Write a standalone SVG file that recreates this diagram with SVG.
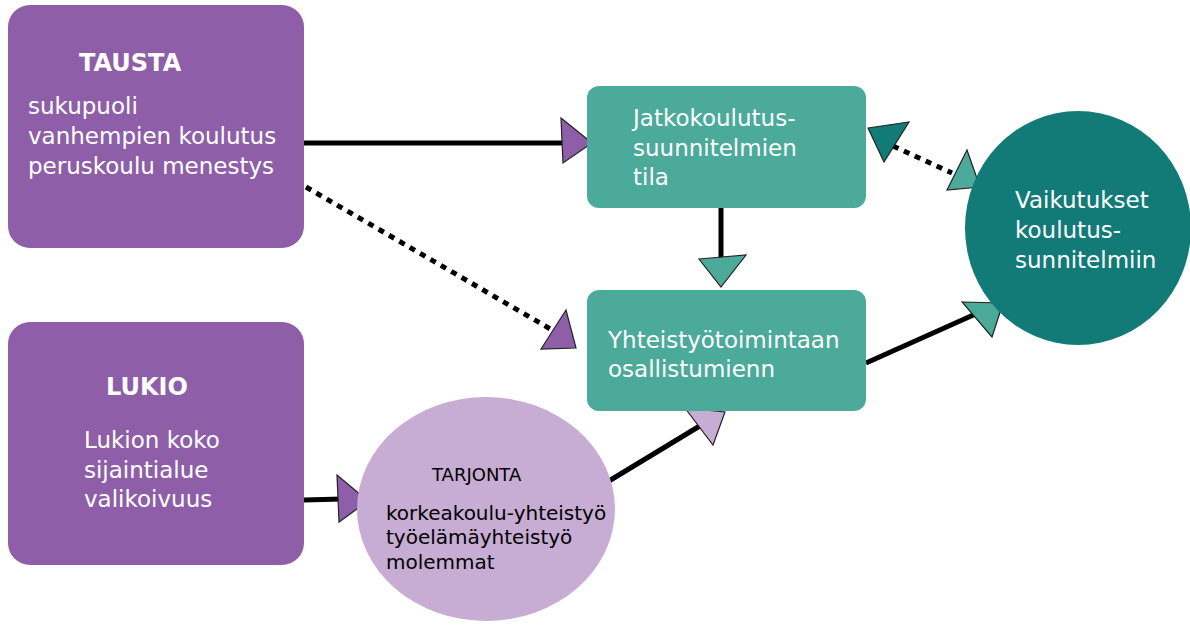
<svg xmlns="http://www.w3.org/2000/svg" width="1190" height="630" viewBox="0 0 1190 630">
<style>
text{font-family:"DejaVu Sans",Verdana,sans-serif;fill:#fff}
.big{font-size:23px}
.bold{font-weight:bold;font-size:24px}
.sm{font-size:20px;fill:#000}
.hd{font-size:18px;fill:#000}
.ln{stroke:#000;stroke-width:5;fill:none}
.dot{stroke:#000;stroke-width:5;fill:none;stroke-dasharray:6 6}
.ah{stroke:#222;stroke-width:1.2;stroke-linejoin:miter}
</style>
<rect width="1190" height="630" fill="#fff"/>
<g id="connectors">
<line class="ln" x1="304" y1="143" x2="562" y2="143"/>
<polygon class="ah" fill="#8E5FA8" points="561,118 592,143 563,163"/>
<line class="dot" x1="306" y1="187" x2="552" y2="330"/>
<polygon class="ah" fill="#8E5FA8" points="566,310 541,349 576,348"/>
<line class="ln" x1="721" y1="208" x2="721" y2="260"/>
<polygon class="ah" fill="#4BAA9A" points="699,259 746,255 721,287"/>
<line class="ln" x1="866" y1="363" x2="980" y2="312"/>
<polygon class="ah" fill="#4BAA9A" points="962,302 1003,303 992,337"/>
<line class="dot" x1="893" y1="146" x2="952" y2="173"/>
<polygon class="ah" fill="#127B77" points="868,128 909,122 884,162"/>
<polygon class="ah" fill="#4BAA9A" points="967,150 980,187 947,190"/>
<line class="ln" x1="304" y1="500" x2="342" y2="499"/>
<polygon class="ah" fill="#8E5FA8" points="337,475 368,501 339,522"/>
<line class="ln" x1="604" y1="484" x2="703" y2="424"/>
<polygon class="ah" fill="#C7ACD3" points="685,408 725,412 713,445"/>
</g>
<g id="tausta">
<rect x="8" y="5" width="296" height="243" rx="22" fill="#8E5FA8"/>
<text class="bold" x="79" y="71">TAUSTA</text>
<text class="big" x="28" y="114">sukupuoli</text>
<text class="big" x="28" y="144">vanhempien koulutus</text>
<text class="big" x="28" y="174">peruskoulu menestys</text>
</g>
<g id="lukio">
<rect x="8" y="322" width="296" height="243" rx="22" fill="#8E5FA8"/>
<text class="bold" x="106" y="395">LUKIO</text>
<text class="big" x="84" y="448">Lukion koko</text>
<text class="big" x="84" y="478">sijaintialue</text>
<text class="big" x="84" y="507">valikoivuus</text>
</g>
<g id="jatko">
<rect x="587" y="86" width="279" height="122" rx="12" fill="#4BAA9A"/>
<text class="big" x="633" y="126">Jatkokoulutus-</text>
<text class="big" x="633" y="156">suunnitelmien</text>
<text class="big" x="633" y="185">tila</text>
</g>
<g id="yhteistyo">
<rect x="587" y="290" width="279" height="121" rx="12" fill="#4BAA9A"/>
<text class="big" x="608" y="348">Yhteistyötoimintaan</text>
<text class="big" x="608" y="377">osallistumienn</text>
</g>
<g id="vaikutukset">
<ellipse cx="1078" cy="228" rx="113" ry="117" fill="#127B77"/>
<text class="big" x="1015" y="208">Vaikutukset</text>
<text class="big" x="1015" y="238">koulutus-</text>
<text class="big" x="1015" y="268">sunnitelmiin</text>
</g>
<g id="tarjonta">
<ellipse cx="486" cy="509" rx="129" ry="112" fill="#C7ACD3"/>
<text class="hd" x="432" y="481">TARJONTA</text>
<text class="sm" x="386" y="520">korkeakoulu-yhteistyö</text>
<text class="sm" x="386" y="544">työelämäyhteistyö</text>
<text class="sm" x="386" y="569">molemmat</text>
</g>
</svg>
